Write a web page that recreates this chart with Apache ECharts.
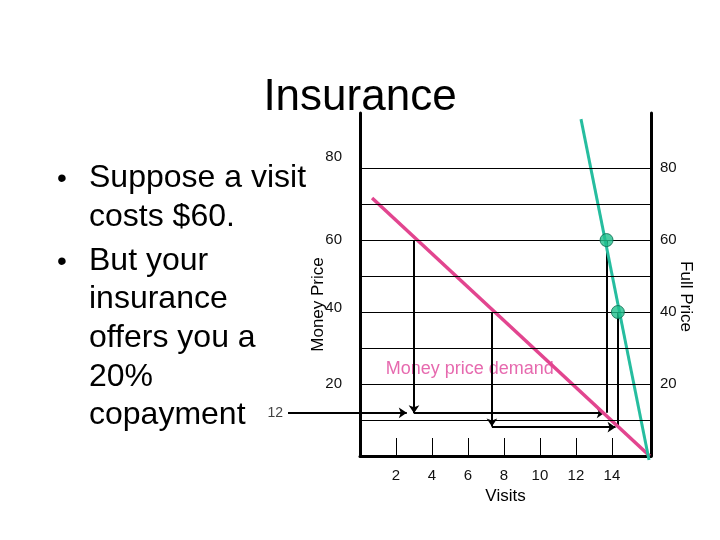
<!DOCTYPE html>
<html>
<head>
<meta charset="utf-8">
<script src="https://cdn.jsdelivr.net/npm/echarts@6/dist/echarts.min.js"></script>
<style>
  html, body { margin: 0; padding: 0; background: #fff; }
  #chart { width: 720px; height: 540px; }
</style>
</head>
<body>
<div id="chart"></div>
<script>
// values
const visitTicks = [2, 4, 6, 8, 10, 12, 14];
const priceLabels = [20, 40, 60, 80];
const gridValues = [10, 20, 30, 40, 50, 60, 70, 80];
const moneyDemand = [[0.67, 71.7], [16.1, 0]];
const fullDemand = [[12.28, 93.6], [16.06, -1.1]];
const fullPoints = [[13.7, 60], [14.33, 40]];
const copayLabel = [[-4, 12]];
const demandLabelAt = [[6.1, 24.2]];
// arrows: [from, to]
const arrowSegs = [
  [[-4, 12], [2.6, 12]],
  [[3, 60], [3, 11.9]],
  [[3, 12], [13.6, 12]],
  [[7.33, 40], [7.33, 8.2]],
  [[7.33, 8], [14.2, 8]]
];
const plainSegs = [
  [[13.72, 12], [13.72, 60]],
  [[14.3, 8], [14.3, 40]]
];
const bulletLines = [
  ['•', 'Suppose a visit'],
  ['', 'costs $60.'],
  ['•', 'But your'],
  ['', 'insurance'],
  ['', 'offers you a'],
  ['', '20%'],
  ['', 'copayment']
];
const bulletY = [181, 220, 264, 302, 341, 380, 418];

const font = 'Liberation Sans, Arial, sans-serif';
const chart = echarts.init(document.getElementById('chart'));

const textEls = [];
bulletLines.forEach((ln, i) => {
  if (ln[0]) {
    textEls.push({
      type: 'text', left: 57, top: bulletY[i] - 16,
      style: { text: ln[0], font: '28px ' + font, fill: '#000' }
    });
  }
  textEls.push({
    type: 'text', left: 89, top: bulletY[i] - 19,
    style: { text: ln[1], font: '32px ' + font, fill: '#000' }
  });
});

const yAxisBase = {
  type: 'value', min: 0, max: 95.3,
  axisLine: { show: true, lineStyle: { color: '#000', width: 3 } },
  axisTick: { show: false },
  splitLine: { show: false },
  axisLabel: { customValues: priceLabels, color: '#111', fontSize: 15, fontFamily: font },
  nameLocation: 'middle',
  nameMoveOverlap: false
};

chart.setOption({
  animation: false,
  title: {
    text: 'Insurance', left: 'center', top: 71,
    textStyle: { fontSize: 44, fontWeight: 'normal', color: '#000', fontFamily: font }
  },
  graphic: textEls,
  grid: { left: 360, right: 69, top: 113, bottom: 84 },
  xAxis: {
    type: 'value', min: 0, max: 16.17,
    name: 'Visits', nameLocation: 'middle', nameGap: 30,
    nameTextStyle: { color: '#000', fontSize: 17, fontFamily: font },
    axisLine: { show: true, lineStyle: { color: '#000', width: 3 } },
    axisTick: { show: true, inside: true, length: 18, customValues: visitTicks, lineStyle: { color: '#000', width: 1 } },
    axisLabel: { customValues: visitTicks, margin: 12, color: '#111', fontSize: 15, fontFamily: font },
    splitLine: { show: false }
  },
  yAxis: [
    Object.assign({}, yAxisBase, {
      position: 'left', name: 'Money Price', nameGap: 33, nameRotate: 90,
      nameTextStyle: { color: '#000', fontSize: 17, fontFamily: font, padding: [0, 40, 0, 0] },
      axisLabel: Object.assign({}, yAxisBase.axisLabel, {
        margin: 18,
        formatter: v => v === 80 ? '{up|80}' : v === 40 ? '{mid|40}' : '{n|' + v + '}',
        rich: {
          up: { fontSize: 15, color: '#111', fontFamily: font, padding: [0, 0, 22, 0] },
          mid: { fontSize: 15, color: '#111', fontFamily: font, padding: [0, 0, 8, 0] },
          n: { fontSize: 15, color: '#111', fontFamily: font }
        }
      })
    }),
    Object.assign({}, yAxisBase, {
      position: 'right', name: 'Full Price', nameGap: 26, nameRotate: -90,
      nameTextStyle: { color: '#000', fontSize: 17, fontFamily: font, padding: [0, 0, 0, 24] },
      axisLabel: Object.assign({}, yAxisBase.axisLabel, { margin: 9 })
    })
  ],
  series: [
    {
      name: 'gridlines', type: 'line', data: [], silent: true,
      markLine: {
        silent: true, symbol: ['none', 'none'], label: { show: false },
        lineStyle: { color: '#000', width: 1, type: 'solid' },
        data: gridValues.map(v => ({ yAxis: v }))
      }
    },
    {
      name: 'Money price demand', type: 'line', data: moneyDemand, clip: false,
      symbol: 'none', lineStyle: { color: '#e2458f', width: 3.5 }, z: 4
    },
    {
      name: 'Full price demand', type: 'line', data: fullDemand, clip: false,
      symbol: 'none', lineStyle: { color: '#26bd9f', width: 3 }, z: 4
    },
    {
      name: 'arrows', type: 'lines', coordinateSystem: 'cartesian2d', clip: false,
      symbol: ['none', 'arrow'], symbolSize: [7, 8],
      lineStyle: { color: '#000', width: 2, opacity: 1, curveness: 0 },
      data: arrowSegs.map(s => ({ coords: s })), z: 3
    },
    {
      name: 'links', type: 'lines', coordinateSystem: 'cartesian2d', clip: false,
      symbol: ['none', 'none'],
      lineStyle: { color: '#000', width: 2, opacity: 1, curveness: 0 },
      data: plainSegs.map(s => ({ coords: s })), z: 3
    },
    {
      name: 'full price points', type: 'scatter', data: fullPoints, symbolSize: 13,
      itemStyle: { color: '#1fbf8c', borderColor: '#0b6a50', borderWidth: 1 }, z: 5
    },
    {
      name: 'copay', type: 'scatter', data: copayLabel, symbolSize: 0, clip: false,
      label: { show: true, position: 'left', distance: 5, formatter: '12', color: '#111', fontSize: 14, fontFamily: font }
    },
    {
      name: 'demand label', type: 'scatter', data: demandLabelAt, symbolSize: 0,
      label: { show: true, position: 'inside', formatter: 'Money price demand', color: '#e0449a', fontSize: 18, fontFamily: font }
    }
  ]
});
</script>
</body>
</html>
